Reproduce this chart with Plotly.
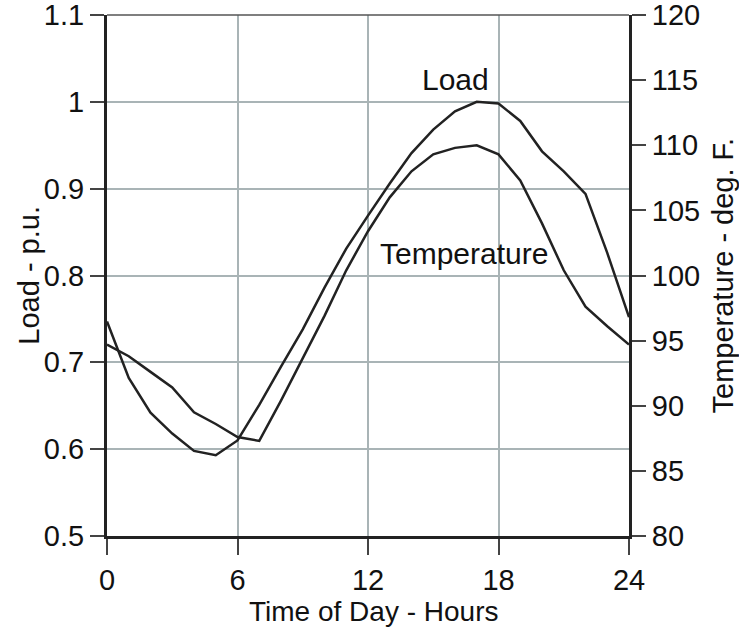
import plotly.graph_objects as go

hours = list(range(25))
load_pu = [0.747, 0.682, 0.642, 0.618, 0.598, 0.593, 0.610, 0.651, 0.695, 0.738,
           0.786, 0.831, 0.869, 0.906, 0.941, 0.968, 0.989, 1.000, 0.998, 0.978,
           0.943, 0.920, 0.894, 0.826, 0.752]
temp_f = [94.7, 93.8, 92.6, 91.4, 89.5, 88.6, 87.6, 87.3, 90.4, 93.6,
          96.9, 100.4, 103.4, 106.0, 108.0, 109.3, 109.8, 110.0, 109.3, 107.3,
          104.0, 100.4, 97.6, 96.1, 94.7]

x_ticks = [0, 6, 12, 18, 24]
load_ticks = [0.5, 0.6, 0.7, 0.8, 0.9, 1.0, 1.1]
load_labels = ["0.5", "0.6", "0.7", "0.8", "0.9", "1", "1.1"]
temp_ticks = [80, 85, 90, 95, 100, 105, 110, 115, 120]

FONT = "Liberation Sans, Arial, sans-serif"
LINE = "#222222"
GRID = "#a9b4b6"
FS = 29
TXT = "#111111"

fig = go.Figure()
fig.add_trace(go.Scatter(x=hours, y=load_pu, mode="lines", name="Load",
                         line=dict(color=LINE, width=2.5), yaxis="y"))
fig.add_trace(go.Scatter(x=hours, y=temp_f, mode="lines", name="Temperature",
                         line=dict(color=LINE, width=2.5), yaxis="y2"))

fig.add_annotation(x=16, y=1.026, xref="x", yref="y", text="Load", showarrow=False,
                   font=dict(family=FONT, size=30, color=TXT))
fig.add_annotation(x=16.4, y=0.825, xref="x", yref="y", text="Temperature", showarrow=False,
                   font=dict(family=FONT, size=30, color=TXT))

# axis titles
fig.add_annotation(x=-0.151, y=0.5, xref="paper", yref="paper", text="Load - p.u.",
                   textangle=-90, showarrow=False, xanchor="center", yanchor="middle",
                   font=dict(family=FONT, size=FS, color=TXT))
fig.add_annotation(x=1.18, y=0.5, xref="paper", yref="paper", text="Temperature - deg. F.",
                   textangle=-90, showarrow=False, xanchor="center", yanchor="middle",
                   font=dict(family=FONT, size=FS, color=TXT))
fig.add_annotation(x=0.51, y=-0.145, xref="paper", yref="paper", text="Time of Day - Hours",
                   showarrow=False, xanchor="center", yanchor="middle",
                   font=dict(family=FONT, size=28, color=TXT))

fig.add_shape(type="line", xref="x domain", yref="y domain", x0=0, x1=1, y0=1, y1=1,
              line=dict(color="#555555", width=1.5))

fig.update_layout(
    width=739, height=634,
    margin=dict(l=107, r=110, t=15, b=98, autoexpand=False),
    paper_bgcolor="white", plot_bgcolor="white",
    showlegend=False,
    font=dict(family=FONT, size=FS, color=TXT),
    xaxis=dict(range=[0, 24], tickvals=x_ticks, ticktext=[str(v) for v in x_ticks],
               showgrid=True, gridcolor=GRID, gridwidth=1.5,
               showline=True, linecolor=LINE, linewidth=3,
               ticks="outside", ticklen=16, tickwidth=1.5, tickcolor="#444",
               ticklabeloverflow="allow", automargin=False,
               zeroline=False),
    yaxis=dict(range=[0.5, 1.1000001], tickvals=load_ticks, ticktext=load_labels,
               showgrid=True, gridcolor=GRID, gridwidth=1.5,
               showline=True, linecolor=LINE, linewidth=3,
               ticks="outside", ticklen=14, tickwidth=1.5, tickcolor="#444",
               ticklabeloverflow="allow", automargin=False,
               zeroline=False),
    yaxis2=dict(range=[80, 120.00001], tickvals=temp_ticks,
                overlaying="y", side="right", anchor="x",
                showgrid=False,
                showline=True, linecolor=LINE, linewidth=3,
                ticks="outside", ticklen=14, tickwidth=1.5, tickcolor="#444",
                ticklabelstandoff=0, ticklabeloverflow="allow", automargin=False,
                zeroline=False),
)

fig.write_html("out.html")
